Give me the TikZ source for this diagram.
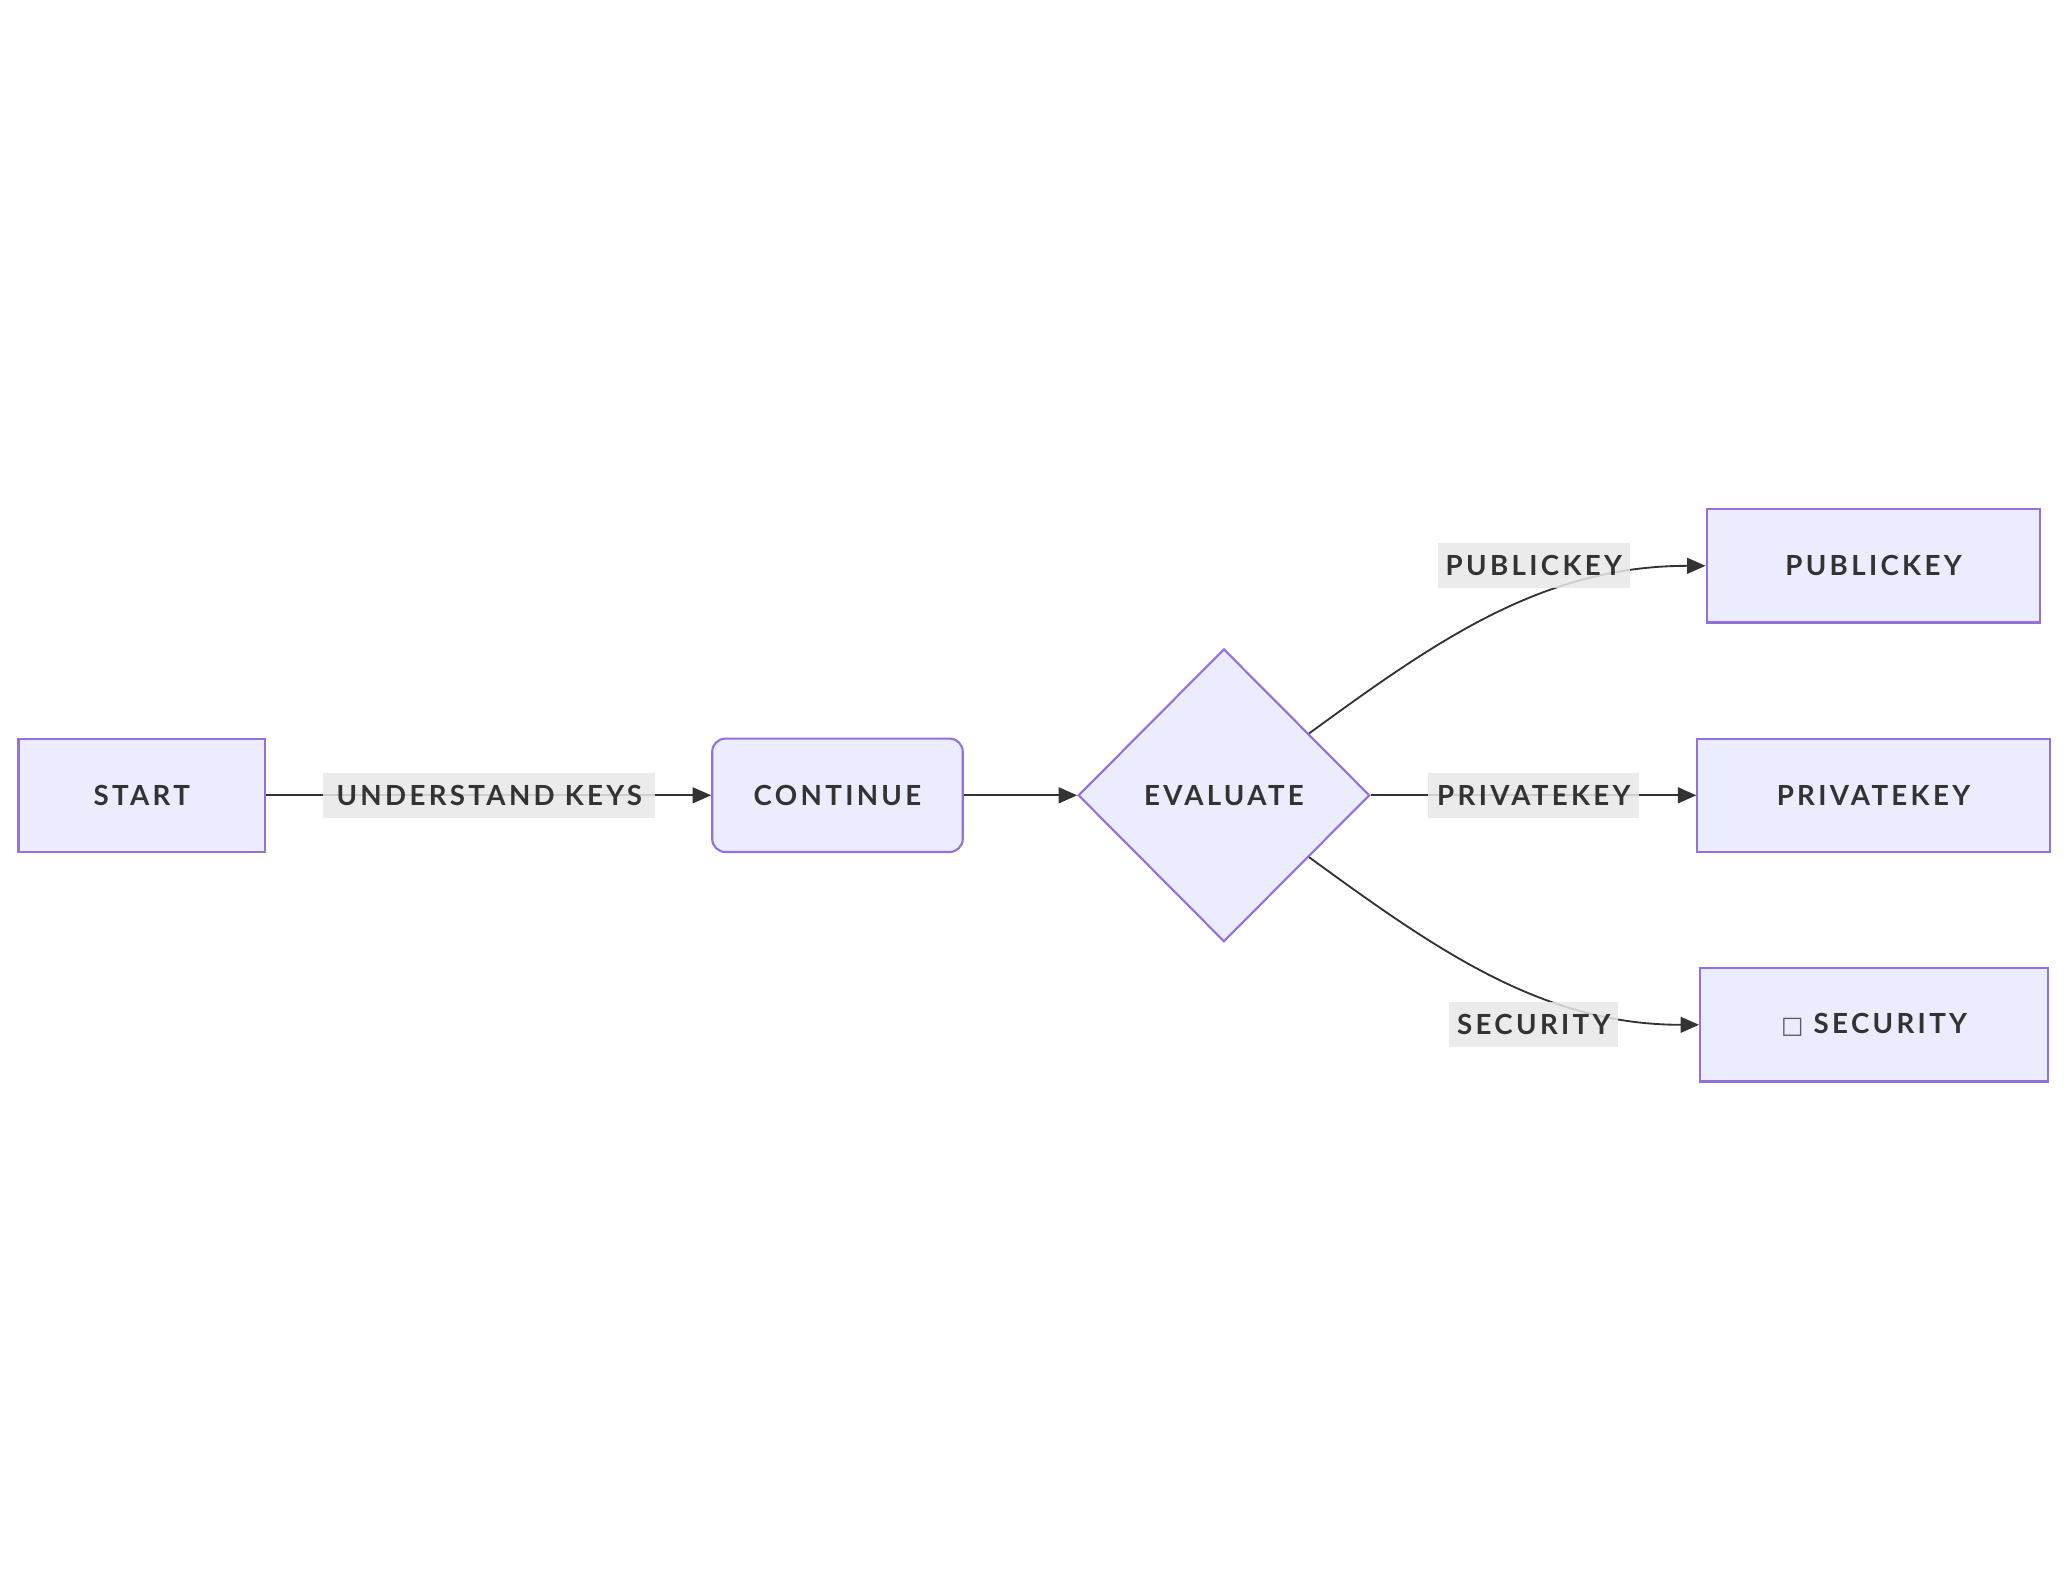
\documentclass[tikz,border=0pt]{standalone}
\usepackage{fontspec}
\setmainfont{Lato}[LetterSpace=12]
\newfontfamily\symfont{DejaVu Sans}
\usetikzlibrary{shapes.geometric,arrows.meta}
\definecolor{nfill}{HTML}{ECECFF}
\definecolor{nline}{HTML}{9370DB}
\definecolor{ink}{HTML}{333333}
\tikzset{
 box/.style={draw=nline,fill=nfill,line width=0.8pt,minimum height=43pt,text=ink,font=\bfseries\fontsize{10.5}{12}\selectfont},
 lbl/.style={fill=black!9,fill opacity=0.85,text opacity=1,text=ink,inner sep=0pt,minimum height=17pt,font=\bfseries\fontsize{10.5}{12}\selectfont},
 arr/.style={draw=ink,line width=0.7pt,-{Triangle[length=7pt,width=6pt]}},
 ln/.style={draw=ink,line width=0.7pt}
}
\begin{document}
\begin{tikzpicture}[x=0.5pt,y=-0.5pt]
\useasboundingbox (0,0) rectangle (1568,1207);
\node[box,minimum width=93.5pt] (st) at (107.5,603) {START};
\node[box,minimum width=95pt,rounded corners=5pt] (co) at (635,603) {CONTINUE};
\node[box,diamond,minimum width=110.5pt,minimum height=111pt,inner sep=0pt] (ev) at (928,603) {EVALUATE};
\node[box,minimum width=126.5pt] (pu) at (1420.5,429) {PUBLICKEY};
\node[box,minimum width=133.5pt] (pr) at (1420.5,603) {PRIVATEKEY};
\node[box,minimum width=132pt] (se) at (1421,777) {{\symfont\mdseries\color{ink!80}\fontsize{9}{10}\selectfont □}\ SECURITY};
\draw[arr] (st) -- (co);
\draw[arr] (co.east) .. controls (770,603) .. (ev.west);
\draw[arr] (ev.east) -- (pr.west);
\draw[arr] (ev.36) .. controls (1090,485) and (1170,429) .. (pu.west);
\draw[arr] (ev.-36) .. controls (1090,721) and (1170,777) .. (se.west);
\node[lbl,minimum width=126pt] (l1) at (371,603) {UNDERSTAND KEYS};
\node[lbl,minimum width=73pt] (l2) at (1163,429) {PUBLICKEY};
\node[lbl,minimum width=80pt] (l3) at (1163,603) {PRIVATEKEY};
\node[lbl,minimum width=64pt] (l4) at (1163,777) {SECURITY};
\end{tikzpicture}
\end{document}
